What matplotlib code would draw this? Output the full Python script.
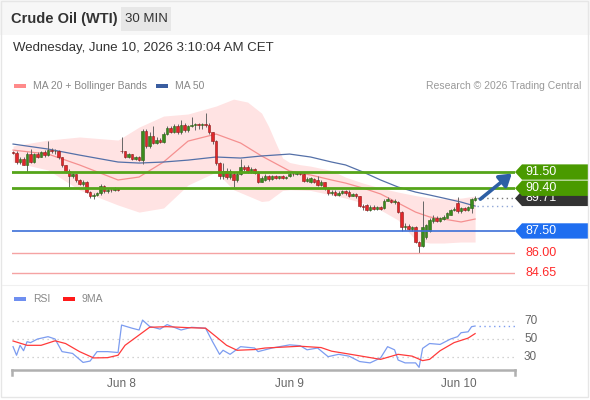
import matplotlib
matplotlib.use("Agg")
import matplotlib.pyplot as plt
from matplotlib.patches import Rectangle, Polygon
from matplotlib.transforms import blended_transform_factory
import numpy as np

plt.rcParams['font.family'] = ['Liberation Sans', 'DejaVu Sans']

# 30 min candles (Fri Jun 5 evening -> Wed Jun 10 03:00 CET)
opens = [92.85, 92.80, 92.15, 92.40, 92.00, 92.75, 92.20, 92.70, 92.55, 92.85,
         92.65, 93.00, 92.90, 92.95, 92.50, 91.95, 91.55, 91.20, 91.35, 90.95,
         90.70, 90.85, 90.15, 89.85, 89.95, 90.05, 90.55, 90.20, 90.30, 90.25,
         90.35, 92.95, 92.90, 92.55, 92.70, 92.40, 92.50, 92.35, 94.30, 93.25,
         93.95, 93.50, 93.70, 93.55, 94.10, 94.50, 94.25, 94.65, 94.20, 94.70,
         94.35, 94.60, 94.70, 94.72, 94.70, 94.75, 94.70, 94.20, 93.60, 92.10,
         91.20, 91.60, 91.15, 91.40, 90.95, 91.40, 91.85, 91.85, 91.55, 91.70,
         91.45, 90.85, 90.95, 91.25, 91.00, 91.25, 91.10, 91.20, 91.10, 91.20,
         91.40, 91.35, 91.45, 91.40, 90.90, 90.85, 91.05, 90.95, 90.65, 90.80,
         90.40, 90.05, 90.15, 89.95, 90.10, 90.20, 90.15, 89.90, 90.00, 89.85,
         89.20, 89.25, 88.95, 89.15, 89.00, 89.10, 89.05, 89.55, 89.60, 89.45,
         89.45, 88.80, 87.75, 87.85, 87.65, 87.75, 86.75, 86.45, 87.10, 87.50,
         88.20, 88.35, 88.20, 88.30, 88.40, 88.60, 88.90, 89.40, 88.85, 89.05,
         88.95, 89.05, 89.60]
highs = [92.95, 92.90, 92.55, 92.50, 92.85, 93.05, 92.80, 92.85, 92.95, 93.00,
         93.60, 93.10, 93.05, 93.00, 92.55, 92.00, 91.70, 91.45, 91.40, 91.05,
         90.95, 90.90, 90.20, 90.05, 90.15, 90.70, 90.65, 90.40, 90.40, 90.45,
         90.40, 93.85, 92.95, 92.80, 92.75, 92.60, 92.60, 94.45, 94.40, 94.20,
         94.60, 93.85, 93.80, 94.20, 94.60, 94.60, 94.75, 94.75, 95.00, 94.80,
         94.70, 95.25, 94.80, 94.80, 94.80, 95.50, 94.80, 94.25, 93.70, 92.20,
         92.10, 91.80, 91.70, 91.50, 91.50, 92.40, 91.95, 92.00, 91.85, 91.80,
         91.55, 91.20, 91.35, 91.30, 91.30, 91.30, 91.25, 91.30, 91.20, 91.50,
         91.50, 91.50, 91.50, 91.45, 91.15, 91.15, 91.10, 91.25, 90.95, 90.85,
         90.45, 90.25, 90.25, 90.20, 90.30, 90.30, 90.25, 90.10, 90.10, 89.90,
         89.35, 89.35, 89.25, 89.25, 89.20, 89.20, 89.65, 89.80, 89.70, 89.65,
         89.50, 88.85, 88.05, 87.95, 87.85, 87.85, 86.85, 89.50, 88.00, 88.35,
         88.55, 88.50, 88.45, 88.55, 88.80, 89.00, 89.10, 89.80, 89.15, 89.15,
         89.20, 89.75, 89.90]
lows = [92.72, 92.05, 92.05, 91.95, 91.50, 92.10, 92.10, 92.45, 92.50, 92.55,
        92.60, 92.80, 92.75, 92.40, 91.85, 91.45, 90.50, 91.10, 90.85, 90.60,
        90.55, 90.05, 89.75, 89.70, 89.90, 89.95, 90.10, 90.10, 90.15, 90.20,
        90.20, 92.80, 92.45, 92.45, 92.30, 92.30, 92.25, 92.05, 93.15, 93.15,
        93.40, 93.40, 93.45, 93.45, 94.00, 94.15, 94.15, 94.10, 94.10, 94.25,
        94.25, 94.55, 94.35, 94.40, 94.40, 94.55, 94.10, 93.40, 92.00, 91.00,
        91.00, 91.05, 91.05, 90.45, 90.85, 91.30, 91.60, 91.45, 91.45, 91.35,
        90.75, 90.80, 90.90, 90.90, 90.95, 91.00, 91.00, 91.05, 91.05, 91.15,
        91.25, 91.30, 91.30, 90.80, 90.85, 90.75, 90.75, 90.55, 90.55, 90.30,
        89.95, 89.95, 89.85, 89.90, 90.00, 89.95, 89.80, 89.85, 89.75, 89.10,
        88.95, 88.85, 88.85, 88.90, 88.90, 88.95, 89.00, 89.50, 89.40, 89.35,
        88.70, 87.50, 87.55, 87.55, 87.50, 86.65, 86.00, 86.40, 86.95, 87.45,
        88.05, 88.10, 88.10, 88.25, 88.35, 88.55, 88.85, 88.75, 88.75, 88.85,
        88.85, 88.75, 89.55]
closes = [92.80, 92.15, 92.40, 92.00, 92.75, 92.20, 92.70, 92.55, 92.85, 92.65,
          93.00, 92.90, 92.95, 92.50, 91.95, 91.55, 91.20, 91.35, 90.95, 90.70,
          90.85, 90.15, 89.85, 89.95, 90.05, 90.55, 90.20, 90.30, 90.25, 90.35,
          90.30, 92.90, 92.55, 92.70, 92.40, 92.50, 92.35, 94.30, 93.25, 93.95,
          93.50, 93.70, 93.55, 94.10, 94.50, 94.25, 94.65, 94.20, 94.70, 94.35,
          94.60, 94.70, 94.72, 94.70, 94.75, 94.70, 94.20, 93.60, 92.10, 91.20,
          91.60, 91.15, 91.55, 90.95, 91.40, 91.85, 91.70, 91.55, 91.70, 91.45,
          90.85, 91.10, 91.25, 91.00, 91.25, 91.10, 91.20, 91.10, 91.15, 91.40,
          91.35, 91.45, 91.40, 90.90, 91.05, 91.10, 90.85, 90.65, 90.80, 90.40,
          90.05, 90.15, 89.95, 90.10, 90.20, 90.05, 89.90, 90.00, 89.85, 89.20,
          89.10, 88.95, 89.15, 89.00, 89.10, 89.00, 89.55, 89.65, 89.45, 89.55,
          88.80, 87.75, 87.85, 87.65, 87.75, 86.75, 86.45, 87.75, 87.90, 88.25,
          88.35, 88.20, 88.35, 88.45, 88.70, 88.90, 89.00, 88.85, 89.05, 88.95,
          89.10, 89.65, 89.71]

# levels
resistances = [91.50, 90.40]
pivot = 87.50
supports = [86.00, 84.65]
last_label = "89.71"

# MA 20 / MA 50, read at some candle positions
ma_idx = [0, 10, 19, 30, 36, 43, 50, 58, 65, 71, 79, 85, 91, 95, 100, 105,
          110, 115, 119, 123, 128, 132]
ma20 = [92.99, 92.72, 91.98, 90.96, 91.16, 92.18, 93.60, 94.08, 93.47, 92.59,
        91.57, 91.30, 90.96, 90.75, 90.41, 90.01, 89.40, 88.78, 88.45, 88.31,
        88.11, 88.31]
ma50 = [93.40, 93.06, 92.65, 92.18, 92.11, 92.18, 92.31, 92.52, 92.45, 92.59,
        92.72, 92.52, 92.18, 91.98, 91.50, 90.96, 90.48, 90.14, 89.94, 89.73,
        89.46, 89.19]

# Bollinger bands
band_idx = [0, 10, 19, 30, 36, 43, 50, 58, 63, 67, 71, 73, 75, 77, 79, 82, 85,
            91, 95, 100, 105, 110, 115, 119, 123, 128, 132]
bb_upper = [93.27, 93.67, 93.88, 93.67, 94.55, 95.30, 95.44, 95.98, 96.45, 96.25,
            95.50, 94.60, 93.50, 92.45, 92.15, 92.00, 91.90, 91.60, 91.15, 90.75,
            90.41, 90.14, 89.90, 89.75, 89.68, 89.73, 89.87]
bb_lower = [92.18, 91.64, 90.28, 89.26, 88.78, 89.06, 90.62, 91.50, 90.30, 89.90,
            89.50, 89.55, 89.90, 90.25, 90.30, 90.28, 90.25, 89.94, 89.73, 89.40,
            88.92, 88.24, 86.88, 86.68, 86.68, 86.75, 86.75]

# RSI and its 9 period MA
rsi_idx = [0, 1, 2, 3, 4, 5, 7, 10, 12, 14, 17, 20, 22, 24, 27, 30, 31, 34, 36,
           37, 39, 42, 44, 48, 51, 55, 57, 59, 60, 62, 65, 69, 70, 74, 79, 82, 84,
           87, 90, 93, 96, 99, 102, 105, 107, 109, 110, 112, 115, 116, 117, 119,
           122, 125, 127, 128, 130, 131, 132]
rsi_val = [41.5, 32, 43, 37, 47, 46, 50, 52.6, 50, 36, 34, 24, 25.5, 36, 36, 35,
           65.5, 62, 60, 71, 64, 61, 66, 60, 63, 62, 47, 33, 37.5, 33, 41.5, 40, 36,
           40, 43.5, 42.6, 38, 40, 30.4, 33, 31, 25, 23.5, 29, 41.5, 38, 26.7,
           23.5, 23.5, 18.5, 39.6, 45, 44, 50, 52.6, 57, 58, 63.7, 64.4]
rsi_ma_idx = [0, 4, 8, 12, 15, 19, 23, 27, 30, 32, 36, 39, 44, 50, 55, 58, 61, 64,
              69, 72, 82, 88, 91, 98, 105, 110, 114, 117, 119, 122, 126, 130, 132]
rsi_ma_val = [47.8, 43, 43, 48, 45, 36, 29, 29.3, 32, 43, 54.4, 63, 63.7, 62.6, 62,
              52.6, 43, 37.5, 38.3, 40, 42, 40.5, 36.5, 32, 27.4, 33, 31, 26, 27.4,
              37, 46, 51, 56]
rsi_levels = [70, 50, 30]

day_pos = [31.1, 79.1, 127.3]
day_labels = ["Jun 8", "Jun 9", "Jun 10"]

W, H = 590, 400


def fx(x):
    return x / W


def fy(y):
    return 1 - y / H


fig = plt.figure(figsize=(5.9, 4.0), dpi=100)
fig.patch.set_facecolor('white')

# header strip and frame
fig.add_artist(Rectangle((0, fy(35)), 1, 35 / H, transform=fig.transFigure,
                         facecolor='#f7f7f7', edgecolor='none', zorder=0))
fig.add_artist(Rectangle((fx(121), fy(31)), 50 / W, 24 / H, transform=fig.transFigure,
                         facecolor='#e7e7e7', edgecolor='none', zorder=1))
fig.add_artist(Rectangle((fx(1), fy(397)), 587 / W, 396 / H, transform=fig.transFigure,
                         facecolor='none', edgecolor='#e6e6e6', lw=1, zorder=1))
fig.add_artist(plt.Line2D([fx(2), fx(587)], [fy(285), fy(285)], transform=fig.transFigure,
                          color='#f0f0f0', lw=0.8, zorder=1))

fig.text(fx(11), fy(19), "Crude Oil (WTI)", fontsize=10.5, fontweight='bold',
         color='#333333', va='center')
fig.text(fx(146), fy(19), "30 MIN", fontsize=9.5, color='#333333', va='center', ha='center')
fig.text(fx(13), fy(48), "Wednesday, June 10, 2026 3:10:04 AM CET", fontsize=9.5,
         color='#333333', va='center')

# legends
fig.add_artist(Rectangle((fx(14), fy(88)), 12 / W, 4 / H, transform=fig.transFigure,
                         facecolor='#ff8a8a', edgecolor='none'))
fig.text(fx(33), fy(86), "MA 20 + Bollinger Bands", fontsize=7.5, color='#888888', va='center')
fig.add_artist(Rectangle((fx(156), fy(88)), 12 / W, 4 / H, transform=fig.transFigure,
                         facecolor='#3a5da0', edgecolor='none'))
fig.text(fx(175), fy(86), "MA 50", fontsize=7.5, color='#888888', va='center')
fig.text(fx(581), fy(86), "Research \u00a9 2026 Trading Central", fontsize=7.5,
         color='#999999', va='center', ha='right')

fig.add_artist(Rectangle((fx(14), fy(301)), 12 / W, 4 / H, transform=fig.transFigure,
                         facecolor='#6f8ff0', edgecolor='none'))
fig.text(fx(33), fy(299), "RSI", fontsize=7.5, color='#888888', va='center')
fig.add_artist(Rectangle((fx(63), fy(301)), 12 / W, 4 / H, transform=fig.transFigure,
                         facecolor='#ff1a1a', edgecolor='none'))
fig.text(fx(82), fy(299), "9MA", fontsize=7.5, color='#888888', va='center')

# ---- price panel
ax = fig.add_axes([fx(12), fy(280), 503 / W, 185 / H])
ax.set_facecolor('none')
idx = np.arange(len(closes))
o = np.array(opens)
c = np.array(closes)
hi = np.array(highs)
lo = np.array(lows)

ax.fill_between(band_idx, bb_lower, bb_upper, color='#ffe3e3', lw=0, zorder=1)
ax.plot(ma_idx, ma20, color='#f59090', lw=0.9, zorder=2)
ax.plot(ma_idx, ma50, color='#5470a8', lw=0.9, zorder=2)

ax.vlines(idx, lo, hi, color='#666666', lw=0.7, zorder=3)
up = c >= o
body = np.maximum(np.abs(c - o), 0.04)
ax.bar(idx[up], body[up], bottom=np.minimum(o, c)[up], width=0.72, color='#3a8c1c',
       edgecolor='#2c5e18', lw=0.4, zorder=4)
ax.bar(idx[~up], body[~up], bottom=np.minimum(o, c)[~up], width=0.72, color='#e3262a',
       edgecolor='#8a1a1a', lw=0.4, zorder=4)

for r in resistances:
    ax.axhline(r, color='#55a51a', lw=2.0, zorder=5)
ax.axhline(pivot, color='#3c6fd8', lw=1.2, zorder=5)
for s in supports:
    ax.axhline(s, color='#f5a3a3', lw=1.0, zorder=5)

xmax = 143.4
last = len(closes) - 1
ax.plot([last + 0.5, xmax], [closes[-1], closes[-1]], color='#777777', lw=1,
        ls=(0, (1, 2.5)), zorder=5)
ax.plot([last + 0.5, xmax], [ma50[-1], ma50[-1]], color='#8fa6d6', lw=1,
        ls=(0, (1, 2.5)), zorder=5)

ax.annotate("", xy=(last + 10.5, resistances[0] - 0.1), xytext=(last + 1.5, closes[-1] - 0.05),
            arrowprops=dict(arrowstyle='-|>,head_length=0.7,head_width=0.45', color='#2d5fa5',
                            lw=2.6, shrinkA=0, shrinkB=0), zorder=6)

ax.set_xlim(-0.3, xmax)
ax.set_ylim(84.17, 96.73)
ax.axis('off')

# right side tags
trans = blended_transform_factory(fig.transFigure, ax.transData)


def tag(level, color, text, z, half=0.52):
    pts = [(fx(515), level), (fx(522), level + half), (fx(588), level + half),
           (fx(588), level - half), (fx(522), level - half)]
    ax.add_patch(Polygon(pts, closed=True, transform=trans, facecolor=color,
                         edgecolor='none', zorder=z, clip_on=False))
    ax.text(fx(525), level, text, transform=trans, color='white', fontsize=9,
            va='center', zorder=z + 1, clip_on=False)


tag(c[-1], '#333333', last_label, 10)
tag(resistances[1], '#4a9a00', "%.2f" % resistances[1], 12)
tag(resistances[0], '#4a9a00', "%.2f" % resistances[0], 14)
tag(pivot, '#1f6ef0', "%.2f" % pivot, 12)
for s in supports:
    ax.text(fx(525), s, "%.2f" % s, transform=trans, color='#ff2a2a', fontsize=9,
            va='center', clip_on=False)

# ---- RSI panel
ax2 = fig.add_axes([fx(12), fy(370), 503 / W, 60 / H])
ax2.set_facecolor('none')
for lv in rsi_levels:
    ax2.axhline(lv, color='#c4c4c4', lw=0.9, ls=(0, (1, 3)), zorder=1)
ax2.plot(rsi_idx, rsi_val, color='#7c9cf0', lw=0.9, zorder=3)
ax2.plot(rsi_ma_idx, rsi_ma_val, color='#ff3a3a', lw=0.9, zorder=3)
ax2.plot([rsi_idx[-1] + 1, xmax], [rsi_val[-1], rsi_val[-1]], color='#7c9cf0', lw=1,
         ls=(0, (1, 2.5)), zorder=3)
ax2.set_xlim(-0.3, xmax)
ax2.set_ylim(15.6, 82.2)
for sp in ['top', 'left', 'right']:
    ax2.spines[sp].set_visible(False)
ax2.spines['bottom'].set_color('#b0b0b0')
ax2.spines['bottom'].set_linewidth(1.8)
ax2.plot([0, 0], [0, -0.09], transform=ax2.transAxes, color='#b0b0b0', lw=1.8, clip_on=False)
ax2.plot([1, 1], [0, -0.09], transform=ax2.transAxes, color='#b0b0b0', lw=1.8, clip_on=False)
ax2.set_yticks([])
ax2.set_xticks(day_pos)
ax2.set_xticklabels(day_labels)
ax2.tick_params(axis='x', length=0, pad=6, labelsize=8.5, labelcolor='#666666')

trans2 = blended_transform_factory(fig.transFigure, ax2.transData)
for lv in rsi_levels:
    ax2.text(fx(524), lv, str(lv), transform=trans2, color='#666666', fontsize=8.5,
             va='center', clip_on=False)

fig.savefig("out.png", dpi=100)
